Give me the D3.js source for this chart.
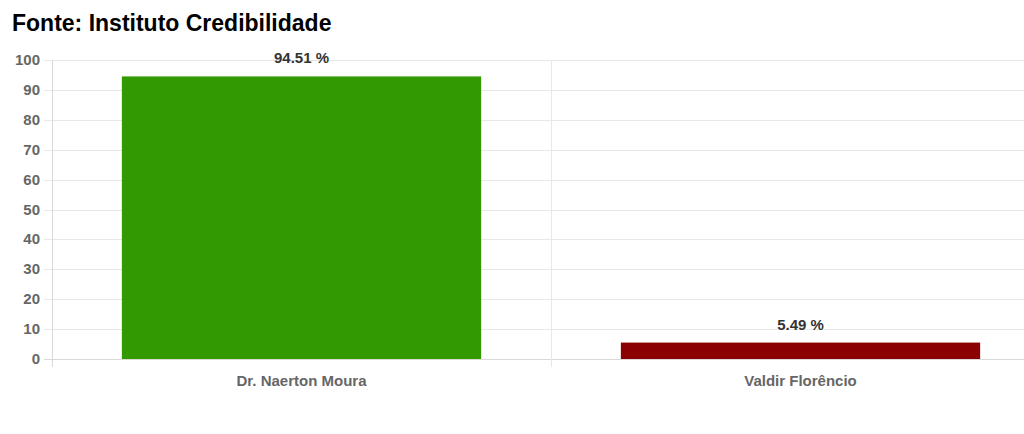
<!DOCTYPE html>
<html><head><meta charset="utf-8">
<script src="https://cdn.jsdelivr.net/npm/d3@7"></script>
<style>html,body{margin:0;padding:0;background:#fff;overflow:hidden}</style>
</head><body>
<svg id="c" width="1024" height="434"></svg>
<script>
const categories = ["Dr. Naerton Moura", "Valdir Florêncio"];
const values = [94.51, 5.49];
const colors = ["#339900", "#8b0000"];
const yTicks = [0,10,20,30,40,50,60,70,80,90,100];

(function () {
const svg = d3.select("#c");
const font = "'Liberation Sans', Arial, sans-serif";
const mLeft = 52, mRight = 1050, mTop = 60, mBottom = 359;

const x = d3.scaleBand().domain(categories).range([mLeft, mRight]).paddingInner(0).paddingOuter(0);
const y = d3.scaleLinear().domain([0, 100]).range([mBottom, mTop]);

svg.append("text").attr("x", 12).attr("y", 31).attr("font-family", font)
  .attr("font-size", 23).attr("font-weight", "bold").attr("fill", "#000")
  .text("Fonte: Instituto Credibilidade");

const g = svg.append("g");
g.selectAll("line.h").data(yTicks).join("line")
  .attr("x1", mLeft - 8).attr("x2", 1024)
  .attr("y1", d => Math.round(y(d)) + 0.5).attr("y2", d => Math.round(y(d)) + 0.5)
  .attr("stroke", d => d === 0 ? "#d9d9d9" : "#e8e8e8").attr("stroke-width", 1);
const vx = [mLeft, mLeft + x.bandwidth()];
g.selectAll("line.v").data(vx).join("line")
  .attr("x1", d => Math.round(d) + 0.5).attr("x2", d => Math.round(d) + 0.5)
  .attr("y1", mTop).attr("y2", mBottom + 8)
  .attr("stroke", (d, i) => i === 0 ? "#d9d9d9" : "#e8e8e8");

svg.selectAll("text.yt").data(yTicks).join("text")
  .attr("x", 40).attr("y", d => y(d) + 5).attr("text-anchor", "end")
  .attr("font-family", font).attr("font-size", 15).attr("font-weight", "bold").attr("fill", "#666")
  .text(d => d);

const bw = x.bandwidth() * 0.72;
svg.selectAll("rect.bar").data(values).join("rect")
  .attr("x", (d, i) => x(categories[i]) + (x.bandwidth() - bw) / 2)
  .attr("y", d => y(d)).attr("width", bw).attr("height", d => y(0) - y(d))
  .attr("fill", (d, i) => colors[i]);

svg.selectAll("text.val").data(values).join("text")
  .attr("x", (d, i) => x(categories[i]) + x.bandwidth() / 2)
  .attr("y", d => y(d) - 13).attr("text-anchor", "middle")
  .attr("font-family", font).attr("font-size", 15).attr("font-weight", "bold").attr("fill", "#333")
  .text(d => d.toFixed(2) + " %");

svg.selectAll("text.xl").data(categories).join("text")
  .attr("x", d => x(d) + x.bandwidth() / 2).attr("y", 386).attr("text-anchor", "middle")
  .attr("font-family", font).attr("font-size", 15).attr("font-weight", "bold").attr("fill", "#666")
  .text(d => d);
})();
</script>
</body></html>
